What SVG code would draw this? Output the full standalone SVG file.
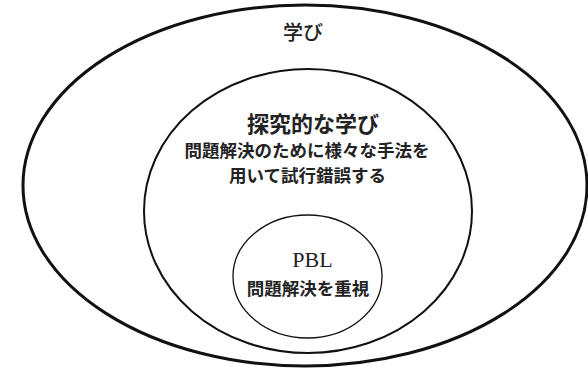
<svg xmlns="http://www.w3.org/2000/svg" width="588" height="371" viewBox="0 0 588 371">
<style>
.ring{fill:none;stroke:#111}
.jp{font-family:"Noto Sans CJK JP","Noto Sans",sans-serif;fill:#222;text-anchor:middle}
.en{font-family:"Liberation Serif","DejaVu Serif",serif;fill:#222;text-anchor:middle}
</style>
<rect width="588" height="371" fill="#fff"/>
<g id="outer">
<ellipse class="ring" cx="305" cy="185.5" rx="282" ry="180.5" stroke-width="3"/>
<text class="jp" x="303" y="40" font-size="20" font-weight="500">学び</text>
</g>
<g id="middle">
<ellipse class="ring" cx="308" cy="211" rx="164" ry="142" stroke-width="2"/>
<text class="jp" x="313" y="132" font-size="22" font-weight="700">探究的な学び</text>
<text class="jp" x="307" y="157" font-size="17.5" font-weight="700">問題解決のために様々な手法を</text>
<text class="jp" x="307.5" y="182" font-size="17.5" font-weight="700">用いて試行錯誤する</text>
</g>
<g id="inner">
<ellipse class="ring" cx="307.5" cy="276.5" rx="74.5" ry="61.5" stroke-width="1.3" stroke="#333"/>
<text class="en" x="312.5" y="267" font-size="22">PBL</text>
<text class="jp" x="308" y="295" font-size="17.5" font-weight="700">問題解決を重視</text>
</g>
<g id="connectors"/>
</svg>
